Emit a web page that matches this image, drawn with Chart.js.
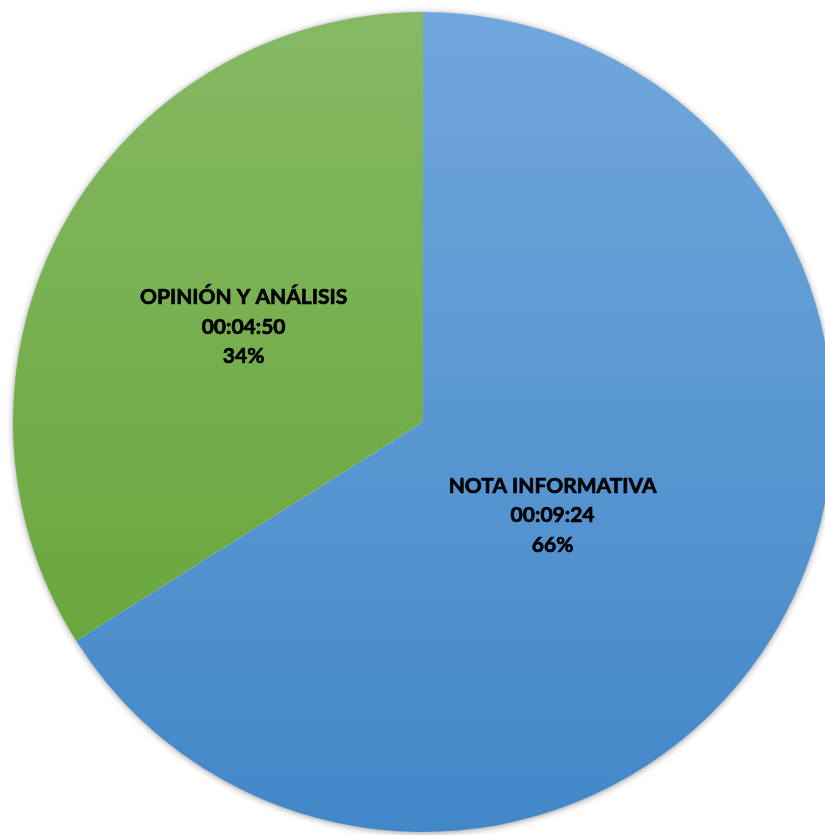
<!DOCTYPE html>
<html>
<head>
<meta charset="utf-8">
<script src="https://cdn.jsdelivr.net/npm/chart.js@4/dist/chart.umd.min.js"></script>
<style>
  html, body { margin: 0; padding: 0; background: #fff; overflow: hidden; }
  #wrap { position: absolute; left: 0; top: 0; width: 846px; height: 844px; }
</style>
</head>
<body>
<div id="wrap"><canvas id="canvas"></canvas></div>
<script>
// data
const categories = ['NOTA INFORMATIVA', 'OPINIÓN Y ANÁLISIS'];
const durations = ['00:09:24', '00:04:50'];
const seconds = [564, 290];
const percentLabels = ['66%', '34%'];

// gradient stops per slice (top -> bottom)
const gradTop = ['#70a7dc', '#86b964'];
const gradBottom = ['#4287c8', '#61a131'];

function sliceGradient(ctx) {
  const chart = ctx.chart;
  const area = chart.chartArea;
  if (!area) return gradBottom[ctx.dataIndex];
  const g = chart.ctx.createLinearGradient(0, area.top, 0, area.bottom);
  g.addColorStop(0, gradTop[ctx.dataIndex]);
  g.addColorStop(1, gradBottom[ctx.dataIndex]);
  return g;
}

// soft shadow behind the whole pie
const shadowPlugin = {
  id: 'pieShadow',
  beforeDatasetsDraw(chart) {
    const arc = chart.getDatasetMeta(0).data[0];
    if (!arc) return;
    const c = chart.ctx;
    c.save();
    c.shadowColor = 'rgba(0,0,0,0.45)';
    c.shadowBlur = 7;
    c.shadowOffsetX = 0;
    c.shadowOffsetY = 1;
    c.fillStyle = '#ffffff';
    c.beginPath();
    c.arc(arc.x, arc.y, arc.outerRadius - 0.5, 0, Math.PI * 2);
    c.fill();
    c.restore();
  }
};

// labels inside slices
const labelDist = [0.39, 0.495];
const labelShift = [7, -1];
const labelPlugin = {
  id: 'sliceLabels',
  afterDatasetsDraw(chart) {
    const c = chart.ctx;
    const meta = chart.getDatasetMeta(0);
    c.save();
    c.fillStyle = '#000';
    c.strokeStyle = '#000';
    c.lineWidth = 0.7;
    c.lineJoin = 'round';
    c.font = 'bold 21px Lato, "Open Sans", sans-serif';
    c.textAlign = 'center';
    c.textBaseline = 'middle';
    meta.data.forEach((arc, i) => {
      const mid = (arc.startAngle + arc.endAngle) / 2 + labelShift[i] * Math.PI / 180;
      const r = arc.outerRadius * labelDist[i];
      const x = arc.x + Math.cos(mid) * r;
      const y = arc.y + Math.sin(mid) * r;
      const lines = [categories[i], durations[i], percentLabels[i]];
      lines.forEach((t, k) => {
        c.fillText(t, x, y + (k - 1) * 29.5);
        c.strokeText(t, x, y + (k - 1) * 29.5);
      });
    });
    c.restore();
  }
};

let ctx = document.getElementById('canvas').getContext('2d');
let myChart = new Chart(ctx, {
  type: 'pie',
  data: {
    labels: categories,
    datasets: [{
      data: seconds,
      backgroundColor: sliceGradient,
      borderWidth: 0
    }]
  },
  options: {
    responsive: true,
    maintainAspectRatio: false,
    animation: false,
    layout: { padding: 12 },
    plugins: {
      legend: { display: false },
      tooltip: { enabled: false }
    }
  },
  plugins: [shadowPlugin, labelPlugin]
});
</script>
</body>
</html>
